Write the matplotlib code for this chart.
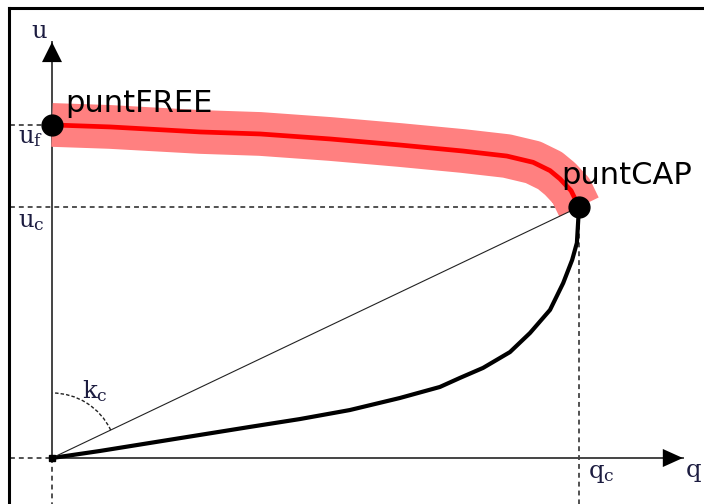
"""
Fundamental diagram sketch (speed u vs flow q) with puntFREE / puntCAP.
"""
import matplotlib
matplotlib.use("Agg")
import matplotlib.pyplot as plt
from matplotlib.patches import Arc, ArrowStyle
from matplotlib.lines import Line2D

# --- diagram values (normalised: q_c = 1, u_c = 1) ---
Q_C = 1.0
U_C = 1.0
U_F = 1.327
Q_AXIS_END = 1.197
U_AXIS_END = 1.657

# free-flow branch (from puntFREE to puntCAP)
FREE_Q = [0.0, 0.110, 0.281, 0.395, 0.528, 0.660, 0.780, 0.863, 0.913, 0.945, 0.964, 0.985, 1.0]
FREE_U = [1.327, 1.319, 1.299, 1.291, 1.271, 1.247, 1.223, 1.203, 1.178, 1.145, 1.112, 1.065, 1.0]

# congested branch (from origin to puntCAP)
CONG_Q = [0.0, 0.091, 0.186, 0.281, 0.376, 0.470, 0.565, 0.660, 0.736, 0.774, 0.818,
          0.869, 0.907, 0.945, 0.970, 0.987, 0.996, 1.0]
CONG_U = [0.0, 0.028, 0.060, 0.092, 0.124, 0.155, 0.191, 0.239, 0.283, 0.319, 0.359,
          0.422, 0.498, 0.590, 0.697, 0.789, 0.857, 1.0]

# --- layout (pixels of a 704x504 canvas) ---
W_PX, H_PX = 704, 504
ORIGIN_PX = (52, 458)
PX_PER_Q = 527
PX_PER_U = 251
DASH_LEFT = -0.08

LABEL_COLOR = "#1c1c40"
AXIS_COLOR = "#444444"

plt.rcParams["mathtext.fontset"] = "dejavuserif"

fig = plt.figure(figsize=(W_PX / 100, H_PX / 100), dpi=100)
ax = fig.add_axes([0, 0, 1, 1])
ax.set_xlim(-ORIGIN_PX[0] / PX_PER_Q, (W_PX - ORIGIN_PX[0]) / PX_PER_Q)
ax.set_ylim(-(H_PX - ORIGIN_PX[1]) / PX_PER_U, ORIGIN_PX[1] / PX_PER_U)
ax.axis("off")

# outer frame (clipped at right / bottom)
fig.add_artist(Line2D([8.5 / W_PX, 8.5 / W_PX], [-0.1, 1 - 8 / H_PX],
                      color="black", lw=2.2, transform=fig.transFigure))
fig.add_artist(Line2D([8.5 / W_PX, 1.1], [1 - 8 / H_PX, 1 - 8 / H_PX],
                      color="black", lw=2.2, transform=fig.transFigure))

bottom = ax.get_ylim()[0]
dash = dict(color="#222222", lw=1.1, linestyle=(0, (3.2, 2.6)))
ax.plot([DASH_LEFT, 0], [U_F, U_F], **dash)
ax.plot([DASH_LEFT, Q_C], [U_C, U_C], **dash)
ax.plot([DASH_LEFT, 0], [0, 0], **dash)
ax.plot([0, 0], [0, bottom], **dash)
ax.plot([Q_C, Q_C], [U_C, bottom], **dash)

# axes with arrow heads
ax.plot([0, 0], [0, U_AXIS_END], color=AXIS_COLOR, lw=1.4)
ax.plot([0, Q_AXIS_END], [0, 0], color=AXIS_COLOR, lw=1.4)
head_y = ArrowStyle("-|>", head_length=14.4, head_width=7.2)
head_x = ArrowStyle("-|>", head_length=14.4, head_width=6.5)
ax.annotate("", xy=(0, U_AXIS_END), xytext=(0, 0),
            arrowprops=dict(arrowstyle=head_y, color="black", lw=0,
                            shrinkA=0, shrinkB=0, mutation_scale=1))
ax.annotate("", xy=(Q_AXIS_END, 0), xytext=(0, 0),
            arrowprops=dict(arrowstyle=head_x, color="black", lw=0,
                            shrinkA=0, shrinkB=0, mutation_scale=1))

# free-flow branch: wide translucent band + red line
ax.plot(FREE_Q, FREE_U, color="#ff8080", lw=31.5, solid_capstyle="butt",
        solid_joinstyle="round", zorder=2)
ax.plot(FREE_Q, FREE_U, color="#ff0000", lw=3.4, solid_capstyle="butt",
        solid_joinstyle="round", zorder=3)

# congested branch and capacity chord
ax.plot(CONG_Q, CONG_U, color="black", lw=3.0, solid_capstyle="round",
        solid_joinstyle="round", zorder=4)
ax.plot([0, Q_C], [0, U_C], color="#222222", lw=0.8, zorder=4)
ax.plot([0], [0], marker="s", color="black", markersize=5, zorder=5)

# k_c angle arc
r_px = 65
ax.add_patch(Arc((0, 0), 2 * r_px / PX_PER_Q, 2 * r_px / PX_PER_U,
                 theta1=45, theta2=90, color="#222222", lw=1.0,
                 linestyle=(0, (2.5, 1.5))))

# key points
ax.plot([0, Q_C], [U_F, U_C], "o", color="black", markersize=15, zorder=6)

ax.annotate("puntFREE", xy=(0, U_F), xytext=(13, 13), textcoords="offset pixels",
            fontsize=22, family="DejaVu Sans", ha="left", va="baseline")
ax.annotate("puntCAP", xy=(Q_C, U_C), xytext=(-18, 23), textcoords="offset pixels",
            fontsize=22, family="DejaVu Sans", ha="left", va="baseline")

lab = dict(textcoords="offset pixels", fontsize=17.5, color=LABEL_COLOR,
           va="baseline")
ax.annotate(r"$\mathrm{u}$", xy=(0, U_AXIS_END), xytext=(-13, 4), ha="center", **lab)
ax.annotate(r"$\mathrm{u}_\mathrm{f}$", xy=(0, U_F), xytext=(-34, -18), ha="left", **lab)
ax.annotate(r"$\mathrm{u}_\mathrm{c}$", xy=(0, U_C), xytext=(-34, -20), ha="left", **lab)
ax.annotate(r"$\mathrm{k}_\mathrm{c}$", xy=(0, 0), xytext=(30, 60), ha="left", **lab)
ax.annotate(r"$\mathrm{q}_\mathrm{c}$", xy=(Q_C, 0), xytext=(9, -20), ha="left", **lab)
ax.annotate(r"$\mathrm{q}$", xy=(Q_AXIS_END, 0), xytext=(2, -19), ha="left", **lab)

fig.savefig("out.png", dpi=100, facecolor="white")
